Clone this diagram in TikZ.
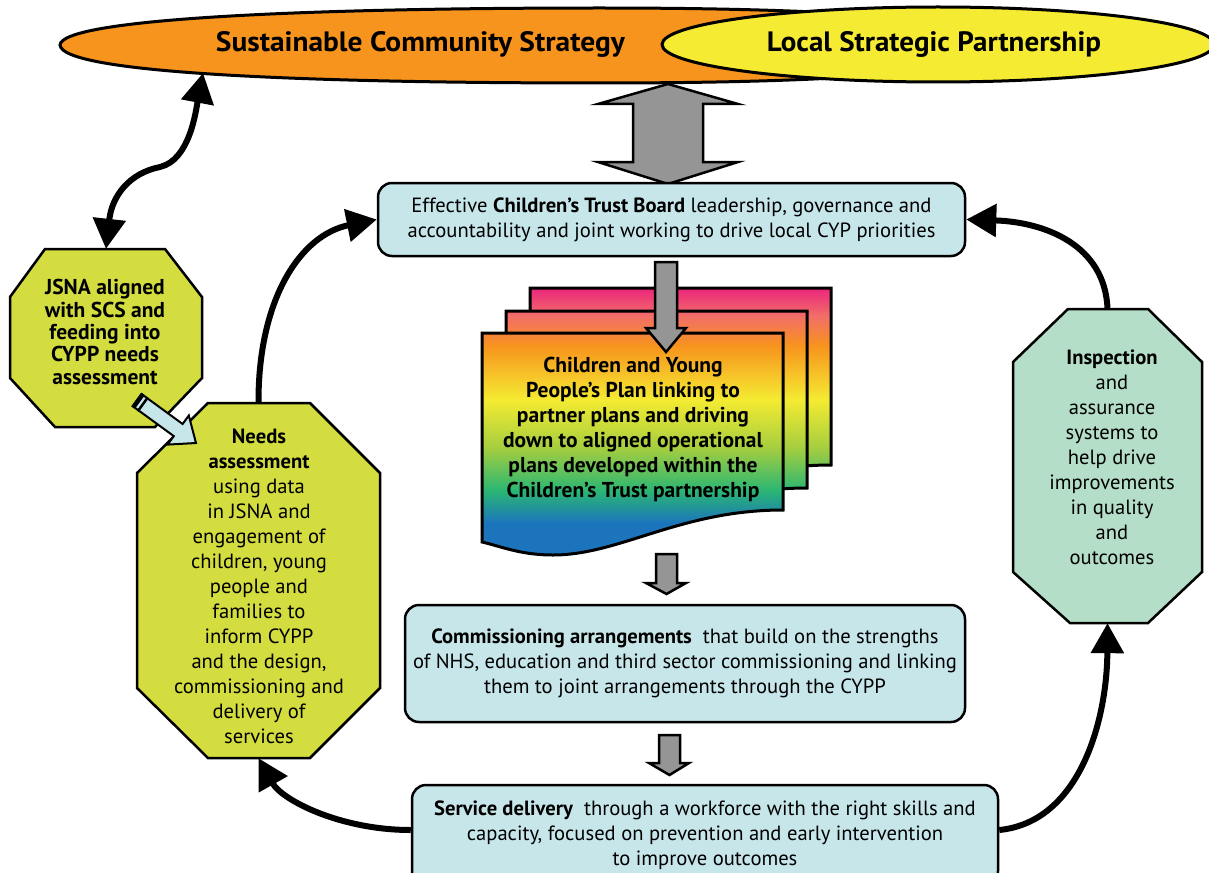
\documentclass[tikz,border=0pt]{standalone}
\usepackage{fontspec}
\usepackage{graphicx}
\setmainfont{PT Sans}
\usetikzlibrary{arrows.meta,shapes.geometric}
\definecolor{orng}{HTML}{F7941D}
\definecolor{yell}{HTML}{F6EB33}
\definecolor{boxblue}{HTML}{C7E6EA}
\definecolor{ygreen}{HTML}{D4DD3F}
\definecolor{mint}{HTML}{B4DEC7}
\definecolor{arrowgray}{HTML}{959595}
\definecolor{rpink}{HTML}{EC2A7C}
\definecolor{rsalmon}{HTML}{F26F66}
\definecolor{rorange}{HTML}{F7941D}
\definecolor{ryellow}{HTML}{F5EB32}
\definecolor{rlime}{HTML}{A5CE3F}
\definecolor{rgreen}{HTML}{2AB673}
\definecolor{rblue}{HTML}{1C75BC}
\pgfdeclareverticalshading{rainbow}{100bp}{color(0bp)=(rblue); color(31bp)=(rblue); color(37bp)=(rgreen); color(45bp)=(rlime); color(54bp)=(ryellow); color(64bp)=(rorange); color(69.5bp)=(rsalmon); color(74.5bp)=(rpink); color(100bp)=(rpink)}
\newcommand\mydocpath[2]{(482+#1,333-#2) -- (783+#1,333-#2) -- (783+#1,510-#2) .. controls (680+#1,510-#2) and (620+#1,555-#2) .. (553+#1,555-#2) .. controls (520+#1,555-#2) and (500+#1,546-#2) .. (482+#1,542-#2) -- cycle}
\newcommand\mydocsheet[2]{%
  \begin{scope}
    \clip \mydocpath{#1}{#2};
    \shade[shading=rainbow] (482,287) rectangle (831,555);
  \end{scope}
  \draw[line width=3pt,line join=miter] \mydocpath{#1}{#2};}
\tikzset{
  x=1pt, y=-1pt,
  txt/.style={font=\fontsize{20.6}{25}\selectfont, align=center, inner sep=0pt},
  bluebox/.style={draw, line width=2.5pt, fill=boxblue, rounded corners=14pt},
  octa/.style={draw, line width=2.5pt, line join=miter},
  conn/.style={line width=6pt, -{Triangle[length=30pt,width=32pt]}},
  blockarrow/.style={draw, line width=2.5pt, fill=arrowgray, line join=miter},
  anchorbox/.style={inner sep=0pt, draw=none},
}
\begin{document}
\begin{tikzpicture}
\clip (0,0) rectangle (1209,872);
\fill[white] (0,0) rectangle (1209,872);
% top ellipses
\draw[fill=orng, line width=3pt] (60,45) .. controls (62,19) and (300,8) .. (600,8) .. controls (900,8) and (1000,25) .. (1000,45) .. controls (1000,66) and (900,83) .. (600,83) .. controls (300,83) and (62,73) .. (60,45) -- cycle;
\coordinate (scsfoot) at (203,73);
\node[ellipse, draw, fill=yell, line width=3pt, minimum width=552pt, minimum height=75pt, inner sep=0pt] (lsp) at (938,44.5) {};
\node[anchor=base, inner sep=0pt] (scstext) at (420.5,52) {\resizebox{409pt}{20pt}{\bfseries Sustainable Community Strategy}};
\node[anchor=base, inner sep=0pt] (lsptext) at (934,52) {\resizebox{334pt}{20pt}{\bfseries Local Strategic Partnership}};
% double gray arrow
\path[blockarrow] (668,84) -- (738,104) -- (703,104) -- (703,162) -- (738,162) -- (668,184) -- (598,162) -- (633,162) -- (633,104) -- (598,104) -- cycle;
% trust board
\node[bluebox, txt, minimum width=587pt, minimum height=73pt] (trust) at (671.5,219.5) {Effective \textbf{Children’s Trust Board} leadership, governance and\\accountability and joint working to drive local CYP priorities};
% document stack
\mydocsheet{48}{45}
\mydocsheet{24}{22}
\mydocsheet{0}{0}
\node[txt, font=\fontsize{21.5}{25}\selectfont\bfseries] (cypp) at (633,429.5) {Children and Young\\People’s Plan linking to\\partner plans and driving\\down to aligned operational\\plans developed within the\\Children’s Trust partnership};
% gray arrows
\path[blockarrow] (655,262) -- (677,262) -- (677,328) -- (686,328) -- (666,352) -- (646,328) -- (655,328) -- cycle;
\path[blockarrow] (656,554) -- (677,554) -- (677,583) -- (686,583) -- (666.5,594) -- (646,583) -- (656,583) -- cycle;
\path[blockarrow] (659,735) -- (680,735) -- (680,763) -- (689,763) -- (669.5,775) -- (649,763) -- (659,763) -- cycle;
% commissioning and service
\node[bluebox, txt, minimum width=560pt, minimum height=117pt] (comm) at (685,663.5) {\textbf{Commissioning arrangements}\ \ that build on the strengths\\of NHS, education and third sector commissioning and linking\\them to joint arrangements through the CYPP};
\node[bluebox, txt, minimum width=586pt, minimum height=100pt] (serv) at (705,835) {\textbf{Service delivery}\ \ through a workforce with the right skills and\\capacity, focused on prevention and early intervention\\to improve outcomes};
% JSNA octagon
\path[octa, fill=ygreen] (45,249) -- (165,249) -- (202,297) -- (202,378) -- (155,427) -- (55,427) -- (10,378) -- (10,297) -- cycle;
\node[anchorbox, minimum width=192pt, minimum height=178pt] (jsna) at (106,338) {};
\node[txt, font=\fontsize{21.5}{22.3}\selectfont\bfseries] (jsnatext) at (105,332) {JSNA aligned\\with SCS and\\feeding into\\CYPP needs\\assessment};
% Needs octagon
\path[octa, fill=ygreen] (208,403) -- (310,403) -- (380,473) -- (380,688) -- (310,758) -- (208,758) -- (137,688) -- (137,473) -- cycle;
\node[anchorbox, minimum width=243pt, minimum height=355pt] (needs) at (258.5,580.5) {};
\node[txt] (needstext) at (259,586) {\textbf{Needs}\\\textbf{assessment}\\using data\\in JSNA and\\engagement of\\children, young\\people and\\families to\\inform CYPP\\and the design,\\commissioning and\\delivery of\\services};
% Inspection octagon
\path[octa, fill=mint] (1068,309) -- (1148,309) -- (1202,362) -- (1202,572) -- (1148,623) -- (1070,623) -- (1013,572) -- (1013,362) -- cycle;
\node[anchorbox, minimum width=189pt, minimum height=314pt] (insp) at (1107.5,466) {};
\node[txt] (insptext) at (1112,457) {\textbf{Inspection}\\and\\assurance\\systems to\\help drive\\improvements\\in quality\\and\\outcomes};
% light blue arrow
\begin{scope}[shift={(137,400)}, rotate=-36.1]
\path[draw, line width=2pt, fill=boxblue, line join=miter] (0,-7.5) -- (51,-7.5) -- (51,-18) -- (73,0) -- (51,18) -- (51,7.5) -- (0,7.5) -- cycle;
\fill (0,-8.5) rectangle (3.5,8.5);
\fill (6,-8.5) rectangle (8.5,8.5);
\end{scope}
% connectors
\draw[line width=6pt, {Triangle[length=30pt,width=32pt]}-{Triangle[length=30pt,width=32pt]}] (jsna.north) .. controls (112,195) and (130,173) .. (160,167) .. controls (190,160) and (196,110) .. (scsfoot);
\draw[conn] (needs.north) .. controls (258,300) and (300,235) .. (trust.west);
\draw[conn] ([yshift=5pt]serv.west) .. controls (340,830) and (282,800) .. (needs.south);
\draw[conn] ([yshift=5pt]serv.east) .. controls (1080,822) and (1107,720) .. (insp.south);
\draw[conn] (insp.north) .. controls (1105,245) and (1045,222) .. (trust.east);
\end{tikzpicture}
\end{document}
